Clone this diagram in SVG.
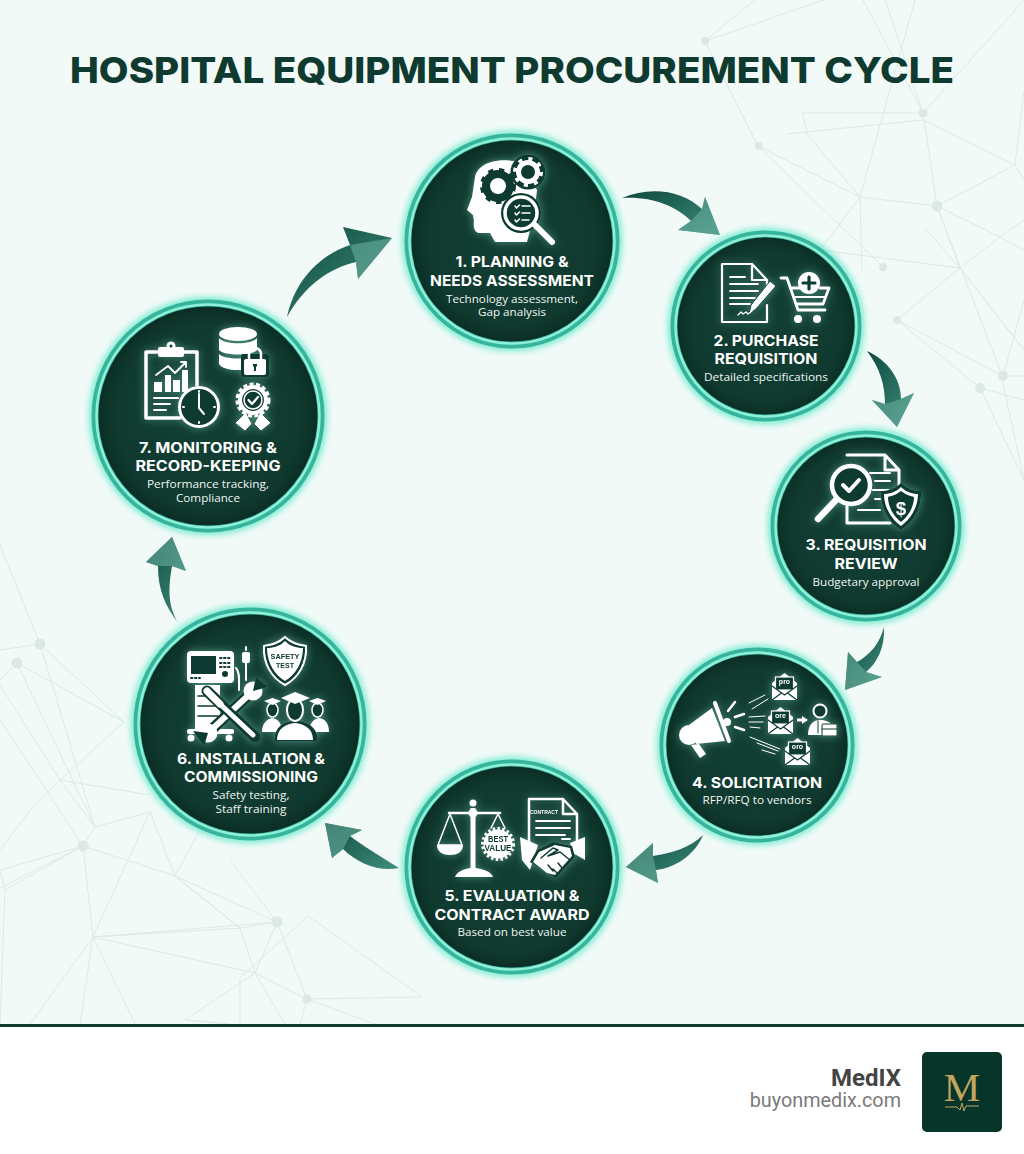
<svg xmlns="http://www.w3.org/2000/svg" xmlns:xlink="http://www.w3.org/1999/xlink" width="1024" height="1154" viewBox="0 0 1024 1154">
<style>
.t{font-family:Inter,"Liberation Sans",sans-serif;font-weight:700;font-size:15px;fill:#fff;text-anchor:middle}
.s{font-family:"Open Sans","Liberation Sans",sans-serif;font-weight:400;font-size:11.5px;fill:#eef6f3;text-anchor:middle}
.net{fill:none;stroke:#dce9e5;stroke-width:1}
.dot{fill:#dbe8e4}
.w{fill:#fff}
.d{fill:#0f3a30}
.ws{fill:none;stroke:#fff;stroke-linecap:round;stroke-linejoin:round}
.ds{fill:none;stroke:#0f3a30;stroke-linecap:round;stroke-linejoin:round}
.tiny{font-family:"Liberation Sans",sans-serif;font-weight:700;text-anchor:middle;fill:#0f3a30}
.tinyw{font-family:"Liberation Sans",sans-serif;font-weight:700;text-anchor:middle;fill:#fff}
.arrow{fill:url(#ag)}
.hl{fill:#6fb3a2;opacity:.55}
.glow{fill:none;stroke:#5fe8c8;stroke-width:7;filter:url(#blur4)}
.ring{fill:none;stroke:#37b59c;stroke-width:7}
.ring2{fill:none;stroke:#8ff0da;stroke-width:2.500}
.disc{fill:url(#rd)}
</style>
<defs>
<radialGradient id="rd"><stop offset="0" stop-color="#123f34"/><stop offset=".8" stop-color="#103a2f"/><stop offset=".92" stop-color="#0d3329"/><stop offset="1" stop-color="#082720"/></radialGradient>
<linearGradient id="ag" x1="0" y1="0" x2="1" y2="1"><stop offset="0" stop-color="#0e4a3e"/><stop offset="1" stop-color="#3f8f7d"/></linearGradient>
<filter id="blur4" x="-20%" y="-20%" width="140%" height="140%"><feGaussianBlur stdDeviation="3.500"/></filter>
<filter id="ig" x="-25%" y="-25%" width="150%" height="150%"><feGaussianBlur in="SourceAlpha" stdDeviation="4" result="b"/><feFlood flood-color="#8ff0d8" flood-opacity=".45"/><feComposite in2="b" operator="in"/><feMerge><feMergeNode/><feMergeNode in="SourceGraphic"/></feMerge></filter>
<g id="env"><path class="w" d="M-12.500,-3 L0,-13 L12.500,-3 V14 H-12.500Z"/><rect x="-9" y="-9" width="18" height="13" fill="#0f3a30" stroke="#fff" stroke-width="1.200"/><path class="w" d="M-12.500,0 L0,9 L12.500,0 V14 H-12.500Z"/><path class="ds" stroke-width="1.200" d="M-12.500,0 L0,9 L12.500,0 M-12.500,14 L-3,7 M12.500,14 L3,7"/></g>
</defs>

<rect width="1024" height="1154" fill="#f2faf8"/>

<g id="background-network">
<path class="net" d="M705,41 L755,0 M705,41 L824,0 M705,41 L758,146 L883,267 M758,146 L860,197 L937,206 M860,197 L915,0 M885,0 L923,113 L937,206 L960,268 L1024,350 M923,113 L863,0 M923,113 L802,113 L808,135 L860,197 M786,134 L923,120 L1015,165 L937,206 L1000,237 L1024,250 M860,197 L820,250 M860,197 L862,270 M897,320 L960,268 L1000,237 L1024,220 M897,320 L980,388 L1024,400 M897,320 L1003,376 M937,206 L1000,370 L1024,480 M925,228 L960,268 L1024,350 M1015,165 L1024,90 M1015,165 L1024,180 M980,388 L1024,480 M1003,376 L1024,300 M820,250 L960,268 M923,113 L1024,0 M1003,376 L1024,376"/>
<circle class="dot" cx="705" cy="41" r="4"/><circle class="dot" cx="923" cy="113" r="4.500"/><circle class="dot" cx="759" cy="146" r="4"/><circle class="dot" cx="937" cy="206" r="5.500"/><circle class="dot" cx="883" cy="267" r="4"/><circle class="dot" cx="897" cy="320" r="4"/><circle class="dot" cx="1003" cy="376" r="5"/><circle class="dot" cx="980" cy="388" r="5"/>
<path class="net" d="M0,545 L40,644 L95,827 L83,846 L175,876 L240,928 L277,922 L307,999 L422,997 L308,916 L240,978 L240,1024 M0,650 L40,644 L124,722 L60,780 L28,813 L0,850 M17,663 L95,827 M17,663 L0,680 M17,663 L124,722 M0,685 L60,780 L150,795 M0,720 L83,846 M60,780 L95,827 M83,846 L0,870 L5,890 L0,1024 M83,846 L93,937 L240,928 M83,846 L0,888 M93,937 L277,922 L175,876 L150,812 L95,827 M150,812 L93,937 L30,1024 M93,937 L255,973 L307,999 M93,937 L80,1024 M93,937 L135,1024 M255,973 L240,928 L175,876 L200,830 M255,973 L185,1020 L230,1024 M255,973 L285,1024 M307,999 L300,1024 M307,999 L375,1024 M277,922 L255,973 M277,922 L230,860 M5,890 L83,846"/>
<circle class="dot" cx="40" cy="644" r="5.500"/><circle class="dot" cx="17" cy="663" r="5.500"/><circle class="dot" cx="83" cy="846" r="5.500"/><circle class="dot" cx="277" cy="922" r="5.500"/><circle class="dot" cx="307" cy="999" r="4.500"/>
</g>

<text x="512" y="83" text-anchor="middle" font-family="Inter,'Liberation Sans',sans-serif" font-weight="800" font-size="36" fill="#0f3a30" textLength="884" lengthAdjust="spacingAndGlyphs">HOSPITAL EQUIPMENT PROCUREMENT CYCLE</text>

<g id="connectors">
<g id="arrow-1-2"><path class="arrow" d="M622,198 C650,186 682,190 702,209 L705,197 L720,235 L678,230 L691,221 C675,205 650,196 622,198Z"/><path class="hl" d="M720,235 L678,230 L691,221 L702,209 L705,197Z"/></g>
<g id="arrow-2-3"><path class="arrow" d="M867,351 C887,360 901,378 901,399 L914,393 L897,427 L872,400 L885,404 C885,385 880,368 867,351Z"/><path class="hl" d="M897,427 L872,400 L885,404 L901,399 L914,393Z"/></g>
<g id="arrow-3-4"><path class="arrow" d="M884,627 C885,648 877,663 866,672 L882,677 L845,690 L848,652 L857,662 C870,655 880,643 884,627Z"/><path class="hl" d="M845,690 L848,652 L857,662 L866,672 L882,677Z"/></g>
<g id="arrow-4-5"><path class="arrow" d="M703,835 C690,848 672,853 653,856 L653,843 L626,867 L658,883 L656,870 C675,868 695,855 703,835Z"/><path class="hl" d="M626,867 L658,883 L656,870 L653,856 L653,843Z"/></g>
<g id="arrow-5-6"><path class="arrow" d="M399,868 C378,855 362,845 350,836 L362,830 L325,823 L332,858 L343,849 C358,864 380,872 399,868Z"/><path class="hl" d="M325,823 L362,830 L350,836 L343,849 L332,858Z" opacity=".3"/></g>
<g id="arrow-6-7"><path class="arrow" d="M178,623 C165,605 158,590 158,566 L146,562 L172,537 L186,571 L172,566 C168,590 168,605 178,623Z"/><path class="hl" d="M172,537 L186,571 L172,566 L158,566 L146,562Z" opacity=".3"/></g>
<g id="arrow-7-1"><path class="arrow" d="M287,317 C295,280 320,255 350,245 L343,227 L392,238 L358,279 L356,262 C330,268 305,285 287,317Z"/><path class="hl" d="M392,238 L358,279 L356,262 L350,245Z"/></g>
</g>

<g id="node-1">
<circle class="glow" cx="512" cy="241" r="106"/><circle class="disc" cx="512" cy="241" r="104"/><circle class="ring" cx="512" cy="241" r="104"/><circle class="ring2" cx="512" cy="241" r="102.500"/>
<g filter="url(#ig)">
<path class="w" d="M475,177 C478,163 498,157 518,162 L537,190 L534,215 L527,242 H495 L490,233 H480 C474,233 473,226 474,221 L473,215 L467,210 L472,197Z"/>
<circle cx="498" cy="186" r="12" fill="none" stroke="#0f3a30" stroke-width="8"/><circle cx="498" cy="186" r="15.500" fill="none" stroke="#0f3a30" stroke-width="5" stroke-dasharray="5 5.500"/>
<circle cx="528" cy="172" r="17.500" class="d"/>
<circle cx="528" cy="172" r="9.500" fill="none" stroke="#fff" stroke-width="5"/><circle cx="528" cy="172" r="13" fill="none" stroke="#fff" stroke-width="4" stroke-dasharray="4 6.200"/>
<circle cx="521" cy="213" r="20" class="d"/><circle cx="521" cy="213" r="16" class="d" stroke="#fff" stroke-width="3.500"/>
<path class="ws" stroke-width="1.500" d="M515,206 l1.500,2 3,-3 M522,206 h8 M515,213 l1.500,2 3,-3 M522,213 h8 M515,220 l1.500,2 3,-3 M522,220 h7"/>
<path class="ws" stroke-width="6" d="M535,225 L552,242"/>
</g>
<text class="t" x="512" y="267" textLength="113" lengthAdjust="spacingAndGlyphs">1. PLANNING &amp;</text>
<text class="t" x="512" y="286" textLength="164" lengthAdjust="spacingAndGlyphs">NEEDS ASSESSMENT</text>
<text class="s" x="512" y="303" textLength="132" lengthAdjust="spacingAndGlyphs">Technology assessment,</text>
<text class="s" x="512" y="316" textLength="68" lengthAdjust="spacingAndGlyphs">Gap analysis</text>
</g>

<g id="node-2">
<circle class="glow" cx="766" cy="326" r="94"/><circle class="disc" cx="766" cy="326" r="92"/><circle class="ring" cx="766" cy="326" r="92"/><circle class="ring2" cx="766" cy="326" r="90.500"/>
<g filter="url(#ig)">
<path class="ws" stroke-width="2.200" d="M752,264 H722 V322 H767 V305 M767,290 V280 L752,264 V280 H767"/>
<path class="ws" stroke-width="1.800" d="M730,277 H745 M730,284 H758 M730,291 H758 M730,298 H755 M730,304 H750"/>
<path class="w" stroke="#0f3a30" stroke-width="1" d="M770,281 L776,286 L756,309 L749,314 L751,305Z"/>
<path class="ws" stroke-width="1.300" d="M738,315 l3,-3 2,2 3,-2 2,2 4,-3"/>
<path class="ws" stroke-width="2.800" d="M781,278 H787 L798,310 H825 M791,288 H800 M820,288 H829 L823,304 H796"/>
<path class="ws" stroke-width="2" d="M795,297 H825"/>
<circle class="w" cx="798" cy="319" r="4"/><circle class="w" cx="817" cy="319" r="4"/>
<circle class="w" cx="809" cy="283" r="11"/><path class="ds" stroke-width="3.200" d="M809,277 V289 M803,283 H815"/>
</g>
<text class="t" x="766" y="346" textLength="105" lengthAdjust="spacingAndGlyphs">2. PURCHASE</text>
<text class="t" x="766" y="364" textLength="103" lengthAdjust="spacingAndGlyphs">REQUISITION</text>
<text class="s" x="766" y="381" textLength="124" lengthAdjust="spacingAndGlyphs">Detailed specifications</text>
</g>

<g id="node-3">
<circle class="glow" cx="866" cy="526" r="94"/><circle class="disc" cx="866" cy="526" r="92"/><circle class="ring" cx="866" cy="526" r="92"/><circle class="ring2" cx="866" cy="526" r="90.500"/>
<g filter="url(#ig)">
<path class="ws" stroke-width="3" d="M847,455 H885 L899,470 V495 M885,455 V470 H899 M847,500 V523 H890"/>
<path class="ws" stroke-width="2" d="M870,473 H890 M875,481 H890 M873,490 H888 M875,499 H880 M858,510 H880"/>
<circle cx="851" cy="485" r="19" class="d" stroke="#fff" stroke-width="4.500"/>
<path class="ws" stroke-width="4" d="M843,485 L849,491 L859,480"/>
<path class="ws" stroke-width="6.500" d="M836,500 L818,519"/>
<path class="d" d="M901,483 C908,490 916,491 921,491 C922,508 913,523 901,530 C889,523 880,508 881,491 C886,491 894,490 901,483Z"/>
<path class="w" d="M901,487 C907,493 914,494 918,494 C918,507 911,519 901,526 C891,519 884,507 884,494 C888,494 895,493 901,487Z"/>
<path class="d" d="M901,491 C906,495 911,496 914,497 C914,506 909,516 901,522 C893,516 888,506 888,497 C891,496 896,495 901,491Z"/>
<text class="tinyw" x="901" y="515" font-size="19">$</text>
</g>
<text class="t" x="866" y="550" textLength="121" lengthAdjust="spacingAndGlyphs">3. REQUISITION</text>
<text class="t" x="866" y="569" textLength="63" lengthAdjust="spacingAndGlyphs">REVIEW</text>
<text class="s" x="866" y="586" textLength="107" lengthAdjust="spacingAndGlyphs">Budgetary approval</text>
</g>

<g id="node-4">
<circle class="glow" cx="757" cy="745" r="96"/><circle class="disc" cx="757" cy="745" r="94"/><circle class="ring" cx="757" cy="745" r="94"/><circle class="ring2" cx="757" cy="745" r="92.500"/>
<g filter="url(#ig)">
<circle class="w" cx="689" cy="735" r="10"/>
<path class="w" d="M689,725 L712,708 L725,741 L696,744Z"/>
<path class="ws" stroke-width="4" d="M715,703 L729,741"/>
<circle class="w" cx="727" cy="722" r="4"/>
<path class="w" d="M691,745 L699,744 L706,754 L700,758Z"/>
<path class="ws" stroke-width="2.500" d="M728,711 L735,702 M735,717 L744,714 M735,727 L744,730"/>
<path class="ws" stroke-width="1" d="M749,703 L765,695 M752,709 L768,699 M749,717 L765,716 M749,722 L763,722 M750,727 L760,728 M750,737 L780,749 M757,743 L778,751 M762,750 L775,754"/>
<use xlink:href="#env" href="#env" x="784.500" y="686"/>
<use xlink:href="#env" href="#env" x="780.500" y="720"/>
<use xlink:href="#env" href="#env" x="797.500" y="751"/>
<text class="tinyw" x="784.500" y="684" font-size="7">pro</text>
<text class="tinyw" x="780.500" y="718" font-size="7">ore</text>
<text class="tinyw" x="797.500" y="749" font-size="7">oro</text>
<path class="w" d="M797,718.500 H802 V716 L808,720 L802,724 V721.500 H797Z"/>
<circle cx="820" cy="711" r="6.500" fill="#0f3a30" stroke="#fff" stroke-width="2"/>
<path class="w" d="M808,735 C808,724 814,720 820,720 C826,720 831,722 833,727 V735Z"/>
<rect x="822" y="724" width="15" height="12" rx="1" class="w" stroke="#0f3a30"/><path class="ds" stroke-width="1" d="M822,729 H837 M818,721 V733"/>
</g>
<text class="t" x="757" y="788" textLength="130" lengthAdjust="spacingAndGlyphs">4. SOLICITATION</text>
<text class="s" x="757" y="804" textLength="109" lengthAdjust="spacingAndGlyphs">RFP/RFQ to vendors</text>
</g>

<g id="node-5">
<circle class="glow" cx="512" cy="867" r="106"/><circle class="disc" cx="512" cy="867" r="104"/><circle class="ring" cx="512" cy="867" r="104"/><circle class="ring2" cx="512" cy="867" r="102.500"/>
<g filter="url(#ig)">
<rect x="470.500" y="808" width="5" height="62" class="w"/><circle class="w" cx="473" cy="803" r="3.500"/><circle class="w" cx="473" cy="813" r="4.500"/>
<path class="ws" stroke-width="2.500" d="M449,813 H500"/>
<path class="w" d="M455,877 C457,871 465,869 470,868 H476 C482,869 491,871 493,877Z"/>
<path class="ws" stroke-width="1.500" d="M450,814 L438,845 H462 Z M498,814 L491,828 M498,814 L505,828"/>
<path class="w" d="M437,845 H463 C463,852 457,855 450,855 C443,855 437,852 437,845Z"/>
<circle class="w" cx="498" cy="844" r="14.500"/><circle cx="498" cy="844" r="15.500" fill="none" stroke="#fff" stroke-width="3" stroke-dasharray="2.500 2.300"/>
<text class="tiny" x="498" y="842" font-size="8.500" textLength="20" lengthAdjust="spacingAndGlyphs">BEST</text><text class="tiny" x="498" y="851" font-size="8.500" textLength="27" lengthAdjust="spacingAndGlyphs">VALUE</text>
<path class="ws" stroke-width="2.500" d="M529,850 V799 H563 L577,814 V846 M563,799 V814 H577"/>
<text class="tinyw" x="544" y="814" font-size="6" textLength="28" lengthAdjust="spacingAndGlyphs">CONTRACT</text>
<path class="ws" stroke-width="1.800" d="M536,821 H570 M536,828 H570 M536,835 H565 M562,839 H570"/>
<path class="w" d="M520,837 L538,845 L530,870 L522,860Z M585,837 V860 L573,853 L570,843Z"/>
<path class="d" d="M537,850 L553,842 L572,846 L575,857 L556,878 L530,862Z"/>
<path class="w" d="M539,852 L555,845 L570,848 L572,856 L555,875 L547,873 L533,862Z"/>
<path class="ds" stroke-width="1.500" d="M541,858 L553,848 L558,850 L548,856 L560,852 L570,860 M553,869 L557,873 M548,865 L553,871 M558,863 L562,868"/>
</g>
<text class="t" x="512" y="901" textLength="135" lengthAdjust="spacingAndGlyphs">5. EVALUATION &amp;</text>
<text class="t" x="512" y="920" textLength="155" lengthAdjust="spacingAndGlyphs">CONTRACT AWARD</text>
<text class="s" x="512" y="936" textLength="109" lengthAdjust="spacingAndGlyphs">Based on best value</text>
</g>

<g id="node-6">
<circle class="glow" cx="250" cy="724" r="115"/><circle class="disc" cx="250" cy="724" r="113"/><circle class="ring" cx="250" cy="724" r="113"/><circle class="ring2" cx="250" cy="724" r="111.500"/>
<g filter="url(#ig)">
<rect x="187" y="651" width="47" height="32" rx="4" class="w"/><rect x="191" y="656" width="25" height="18" class="d"/>
<path class="ds" stroke-width="2" stroke-dasharray="1.500 2.500" d="M220,658 H232 M220,663 H232 M220,667 H232 M191,678 H200"/>
<circle cx="225" cy="674" r="3" class="d"/>
<rect x="195" y="685" width="25" height="45" class="w"/><path class="ds" stroke-width="1.500" d="M198,696 H218 M198,706 H218 M198,716 H218"/>
<rect x="187" y="729" width="47" height="5" rx="2" class="w"/><circle class="w" cx="191" cy="738" r="3.500"/><circle class="w" cx="229" cy="738" r="3.500"/>
<rect x="242" y="652" width="8" height="11" rx="2" class="w"/><path class="ws" stroke-width="2" d="M246,663 V680 M246,650 V647 M236,668 C240,672 239,680 239,690"/>
<path d="M252,692 L208,733" stroke="#0f3a30" stroke-width="11" stroke-linecap="round"/><path d="M207,691 L255,737" stroke="#0f3a30" stroke-width="11" stroke-linecap="round"/>
<path class="ws" stroke-width="6" d="M252,692 L208,733"/>
<circle class="w" cx="253" cy="691" r="9.500"/><path class="d" d="M253,691 L256,677 L268,687Z"/>
<circle class="w" cx="208" cy="733" r="9.500"/><path class="d" d="M208,733 L193,731 L204,746Z"/>
<path d="M207,691 L255,737" stroke="#0f3a30" stroke-width="10"/>
<path class="ws" stroke-width="7" d="M207,691 L220,704"/><path class="ws" stroke-width="5" d="M220,704 L253,735"/>
<path d="M285,637 C292,644 300,645 306,646 C307,664 298,678 285,685 C272,678 263,664 264,646 C270,645 278,644 285,637Z" class="d" stroke="#fff" stroke-width="2"/>
<path class="w" d="M285,641 C291,647 298,648 303,648 C303,663 295,675 285,681 C275,675 267,663 267,648 C272,648 279,647 285,641Z"/>
<text class="tiny" x="285" y="659" font-size="7.500" textLength="29" lengthAdjust="spacingAndGlyphs">SAFETY</text><text class="tiny" x="285" y="668" font-size="7.500" textLength="18" lengthAdjust="spacingAndGlyphs">TEST</text>
<path class="w" d="M262,732 C262,722 268,719 272,718 C278,719 282,723 282,732Z M309,732 C309,723 314,719 319,718 C325,719 329,723 329,732Z"/>
<ellipse cx="272.500" cy="710" rx="5.500" ry="7" class="d" stroke="#fff" stroke-width="1.500"/><ellipse cx="317.500" cy="710" rx="5.500" ry="7" class="d" stroke="#fff" stroke-width="1.500"/>
<path class="w" d="M264,701 L272.500,698 L281,701 L272.500,705Z M309,701 L317.500,698 L326,701 L317.500,705Z"/>
<path class="d" d="M276,740 C276,727 285,723 295,722 C305,723 316,727 316,740Z" stroke="#0f3a30" stroke-width="3"/>
<path class="w" d="M277,740 C277,729 285,724 295,723 C305,724 313,729 313,740Z"/>
<ellipse cx="295" cy="710" rx="8" ry="11" class="d" stroke="#fff" stroke-width="2"/>
<path class="w" d="M281,698 L295,692 L310,698 L295,704Z"/>
</g>
<text class="t" x="251" y="764" textLength="148" lengthAdjust="spacingAndGlyphs">6. INSTALLATION &amp;</text>
<text class="t" x="251" y="782" textLength="134" lengthAdjust="spacingAndGlyphs">COMMISSIONING</text>
<text class="s" x="251" y="799" textLength="77" lengthAdjust="spacingAndGlyphs">Safety testing,</text>
<text class="s" x="251" y="813" textLength="71" lengthAdjust="spacingAndGlyphs">Staff training</text>
</g>

<g id="node-7">
<circle class="glow" cx="208" cy="416" r="115"/><circle class="disc" cx="208" cy="416" r="113"/><circle class="ring" cx="208" cy="416" r="113"/><circle class="ring2" cx="208" cy="416" r="111.500"/>
<g filter="url(#ig)">
<path class="ws" stroke-width="3.500" d="M157,352 H146 V418 H180 M184,352 H197 V385"/>
<rect x="158" y="347" width="26" height="10" rx="2" class="w"/><circle class="w" cx="171" cy="346" r="4.500"/><circle class="d" cx="171" cy="346" r="1.500"/>
<path class="w" d="M154,382 H162 V392 H154Z M165,375 H171 V392 H165Z M173,380 H180 V392 H173Z M182,370 H188 V392 H182Z"/>
<path class="ws" stroke-width="1.800" d="M156,375 L168,366 L175,373 L186,362 M181,362 H186 V367"/>
<path class="ws" stroke-width="2" d="M154,398 H178 M154,404 H170 M154,410 H166"/>
<circle cx="199" cy="407" r="19.500" class="d" stroke="#fff" stroke-width="3"/>
<path class="ws" stroke-width="2" d="M199,394 V408 L204,414"/>
<path class="ws" stroke-width="2" d="M199,391 V392 M199,422 V423 M183,407 H184 M214,407 H215"/>
<ellipse cx="238" cy="334" rx="19" ry="7" class="w"/>
<path class="w" d="M219,338 C224,345 252,345 257,338 V350 C252,356 224,356 219,350Z M219,354 C224,360 252,360 257,354 V364 C250,372 224,372 219,364Z"/>
<rect x="241" y="354" width="28" height="23" class="d" rx="2"/>
<path class="ws" stroke-width="2.500" d="M249,360 V354 A6,6 0 0 1 261,354 V360"/>
<rect x="244" y="359" width="22" height="16" rx="2" class="w"/><path class="d" d="M253,364 h4 v2 l-1,1 v4 h-2 v-4 l-1,-1Z"/>
<path class="w" d="M235,423 L246,412 L252,424 L245,431Z M271,423 L260,412 L254,424 L261,431Z" stroke="#0f3a30" stroke-width=".8"/>
<circle class="w" cx="253" cy="400" r="15"/><circle cx="253" cy="400" r="16" fill="none" stroke="#fff" stroke-width="3" stroke-dasharray="4 2.500"/>
<circle cx="253" cy="400" r="10.500" class="d" stroke="#0f3a30"/><circle cx="253" cy="400" r="9" fill="none" stroke="#fff" stroke-width="1.500"/>
<path class="ws" stroke-width="2.200" d="M248.500,400 L252,404 L258,397"/>
</g>
<text class="t" x="208" y="453" textLength="138" lengthAdjust="spacingAndGlyphs">7. MONITORING &amp;</text>
<text class="t" x="208" y="471" textLength="145" lengthAdjust="spacingAndGlyphs">RECORD-KEEPING</text>
<text class="s" x="208" y="488" textLength="122" lengthAdjust="spacingAndGlyphs">Performance tracking,</text>
<text class="s" x="208" y="502" textLength="64" lengthAdjust="spacingAndGlyphs">Compliance</text>
</g>

<g id="footer">
<rect y="1024" width="1024" height="130" fill="#fff"/>
<rect y="1024" width="1024" height="3" fill="#0f3a30"/>
<text x="901" y="1086" text-anchor="end" font-family="Roboto,'Liberation Sans',sans-serif" font-weight="700" font-size="24" fill="#444">MedIX</text>
<text x="901" y="1107" text-anchor="end" font-family="Roboto,'Liberation Sans',sans-serif" font-size="19.800" fill="#7a7a7a">buyonmedix.com</text>
<rect x="922" y="1052" width="80" height="80" rx="5" fill="#07352a"/>
<text x="962" y="1101" text-anchor="middle" font-family="'Liberation Serif',serif" font-size="41" fill="#c2a660">M</text>
<path d="M945,1107 H957 L960,1110 L962,1103 L964,1111 L966,1106 H979" fill="none" stroke="#c2a660" stroke-width="1"/>
</g>
</svg>
